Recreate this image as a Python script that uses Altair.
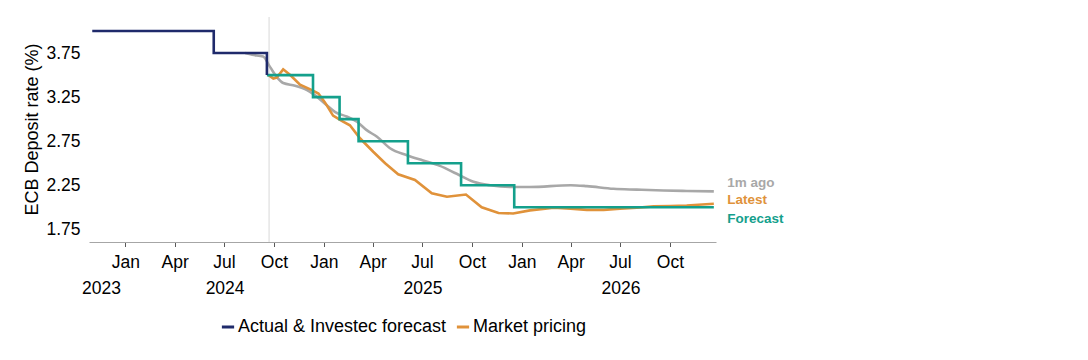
import altair as alt
import pandas as pd

# ---------------- data ----------------
series_names = ["Actual & Investec forecast", "Market pricing", "Forecast", "1m ago"]
series_colors = ["#1F2A6B", "#E0923A", "#14A08C", "#A8A8A8"]

actual_dates = ["2023-11-01", "2024-06-12", "2024-09-18"]
actual_values = [4.00, 3.75, 3.50]

forecast_dates = ["2024-09-18", "2024-12-12", "2025-01-30", "2025-03-06",
                  "2025-06-05", "2025-09-11", "2025-12-18", "2026-12-21"]
forecast_values = [3.50, 3.25, 3.00, 2.75, 2.50, 2.25, 2.00, 2.00]

latest_dates = ["2024-09-21", "2024-09-30", "2024-10-06", "2024-10-18", "2024-10-31",
                "2024-11-18", "2024-12-10", "2024-12-22", "2025-01-03", "2025-01-18",
                "2025-02-03", "2025-02-18", "2025-03-09", "2025-04-02", "2025-04-24",
                "2025-05-18", "2025-06-18", "2025-07-19", "2025-08-16", "2025-09-20",
                "2025-10-19", "2025-11-19", "2025-12-16", "2026-01-16", "2026-03-01",
                "2026-04-01", "2026-05-01", "2026-06-01", "2026-07-01", "2026-08-01",
                "2026-09-01", "2026-10-02", "2026-11-01", "2026-12-21"]
latest_values = [3.50, 3.46, 3.47, 3.565, 3.50,
                 3.39, 3.33, 3.29, 3.19, 3.04,
                 2.98, 2.93, 2.78, 2.63, 2.50,
                 2.375, 2.31, 2.16, 2.12, 2.145,
                 2.00, 1.935, 1.93, 1.965, 1.995,
                 1.985, 1.97, 1.97, 1.985, 1.995,
                 2.01, 2.015, 2.02, 2.04]

ago_dates = ["2024-08-09", "2024-08-22", "2024-09-11", "2024-09-24", "2024-10-06",
             "2024-10-18", "2024-11-09", "2024-12-01", "2024-12-16", "2025-01-06",
             "2025-01-22", "2025-02-12", "2025-03-03", "2025-03-21", "2025-04-09",
             "2025-05-03", "2025-06-03", "2025-07-03", "2025-08-03", "2025-09-03",
             "2025-10-04", "2025-11-03", "2025-12-10", "2026-01-16", "2026-04-01",
             "2026-05-01", "2026-06-19", "2026-08-01", "2026-09-19", "2026-11-01",
             "2026-12-21"]
ago_values = [3.75, 3.73, 3.71, 3.59, 3.48,
              3.41, 3.38, 3.33, 3.27, 3.16,
              3.08, 3.03, 2.97, 2.875, 2.80,
              2.67, 2.59, 2.53, 2.47, 2.38,
              2.29, 2.25, 2.23, 2.23, 2.25,
              2.24, 2.21, 2.20, 2.19, 2.185,
              2.18]

vline_dates = ["2024-09-22"]

end_labels = ["1m ago", "Latest", "Forecast"]

y_ticks = [1.75, 2.25, 2.75, 3.25, 3.75]
month_tick_months = [(2024, 1), (2024, 4), (2024, 7), (2024, 10),
                     (2025, 1), (2025, 4), (2025, 7), (2025, 10),
                     (2026, 1), (2026, 4), (2026, 7), (2026, 10)]
year_label_dates = [(2023, 11, 17), (2024, 7, 2), (2025, 7, 2), (2026, 7, 2)]

# ---------------- tables ----------------
def frame(dates, values, name):
    return pd.DataFrame({"date": dates, "value": values, "series": name})

df_actual = frame(actual_dates, actual_values, series_names[0])
df_latest = frame(latest_dates, latest_values, series_names[1])
df_fc = frame(forecast_dates, forecast_values, series_names[2])
df_ago = frame(ago_dates, ago_values, series_names[3])
df_vline = pd.DataFrame({"date": vline_dates})

FONT = "Liberation Sans, Arial, Helvetica, sans-serif"

xscale = alt.Scale(type="utc",
                   domain=[alt.DateTime(year=2023, month=10, date=26, utc=True),
                           alt.DateTime(year=2026, month=12, date=25, utc=True)])
yscale = alt.Scale(domain=[1.606, 4.159], nice=False, zero=False)

Y = alt.Y("value:Q", scale=yscale, title="ECB Deposit rate (%)",
          axis=alt.Axis(values=y_ticks, format=".2f", ticks=False, domain=False, grid=False,
                        labelFontSize=17.5, labelColor="#000000", labelFont=FONT, labelPadding=9,
                        titleFontSize=18, titleFont=FONT, titleFontWeight="normal",
                        titleColor="#000000", titleX=-57, titleY=112, titleAngle=-90,
                        titleBaseline="middle", titleAlign="center"))

month_axis = alt.Axis(orient="bottom",
                      values=[alt.DateTime(year=y, month=m, date=1, utc=True) for y, m in month_tick_months],
                      labelExpr="utcFormat(datum.value, '%b')",
                      grid=False, domainColor="#A6A6A6", domainWidth=1,
                      tickColor="#595959", tickSize=4.5, tickWidth=1,
                      labelFontSize=17.5, labelFont=FONT, labelColor="#000000",
                      labelPadding=7, labelOverlap=False, labelFlush=False, labelBound=False)

year_axis = alt.Axis(orient="bottom",
                     values=[alt.DateTime(year=y, month=m, date=d, utc=True) for y, m, d in year_label_dates],
                     labelExpr="utcFormat(datum.value, '%Y')",
                     grid=False, domain=False, ticks=False,
                     labelFontSize=17.5, labelFont=FONT, labelColor="#000000",
                     labelPadding=37, labelOverlap=False, labelFlush=False, labelBound=False)

color = alt.Color("series:N",
                  scale=alt.Scale(domain=series_names, range=series_colors),
                  legend=alt.Legend(values=series_names[:2], title=None, orient="none",
                                    direction="horizontal", legendX=130, legendY=301,
                                    symbolType="stroke", symbolStrokeWidth=3, symbolSize=150,
                                    labelFontSize=18, labelFont=FONT, labelColor="#000000",
                                    labelLimit=400, labelOffset=1, columnPadding=3,
                                    padding=0))

x_plain = alt.X("date:T", scale=xscale, axis=None, title=None)

vline = alt.Chart(df_vline).mark_rule(color="#D9D9D9", strokeWidth=1).encode(
    x=alt.X("date:T", scale=xscale, axis=year_axis, title=None))

ago = alt.Chart(df_ago).mark_line(strokeWidth=2.6, interpolate="monotone").encode(
    x=alt.X("date:T", scale=xscale, axis=month_axis, title=None), y=Y, color=color)

latest = alt.Chart(df_latest).mark_line(strokeWidth=2.6, interpolate="linear").encode(
    x=x_plain, y=Y, color=color)

fc = alt.Chart(df_fc).mark_line(strokeWidth=2.6, interpolate="step-after").encode(
    x=x_plain, y=Y, color=color)

act = alt.Chart(df_actual).mark_line(strokeWidth=2.6, interpolate="step-after").encode(
    x=x_plain, y=Y, color=color)

def end_label(df, text, col, dy):
    d = df.tail(1).assign(label=text)
    return alt.Chart(d).mark_text(align="left", baseline="middle", dx=13.4, dy=dy,
                                  fontSize=13.5, fontWeight="bold", font=FONT, color=col).encode(
        x=x_plain, y=Y, text="label:N")

lab_ago = end_label(df_ago, end_labels[0], series_colors[3], -8.7)
lab_lat = end_label(df_latest, end_labels[1], series_colors[1], -3.5)
lab_fc = end_label(df_fc, end_labels[2], series_colors[2], 11.3)

chart = alt.layer(vline, ago, latest, fc, act, lab_ago, lab_lat, lab_fc).resolve_axis(
    x="independent").properties(
    width=627, height=225,
    autosize=alt.AutoSizeParams(type="none"),
    padding={"left": 81, "top": 9, "right": 80, "bottom": 110},
    background="white",
).configure_view(stroke=None)

chart.save("out.html", embed_options={"renderer": "svg", "actions": False})
